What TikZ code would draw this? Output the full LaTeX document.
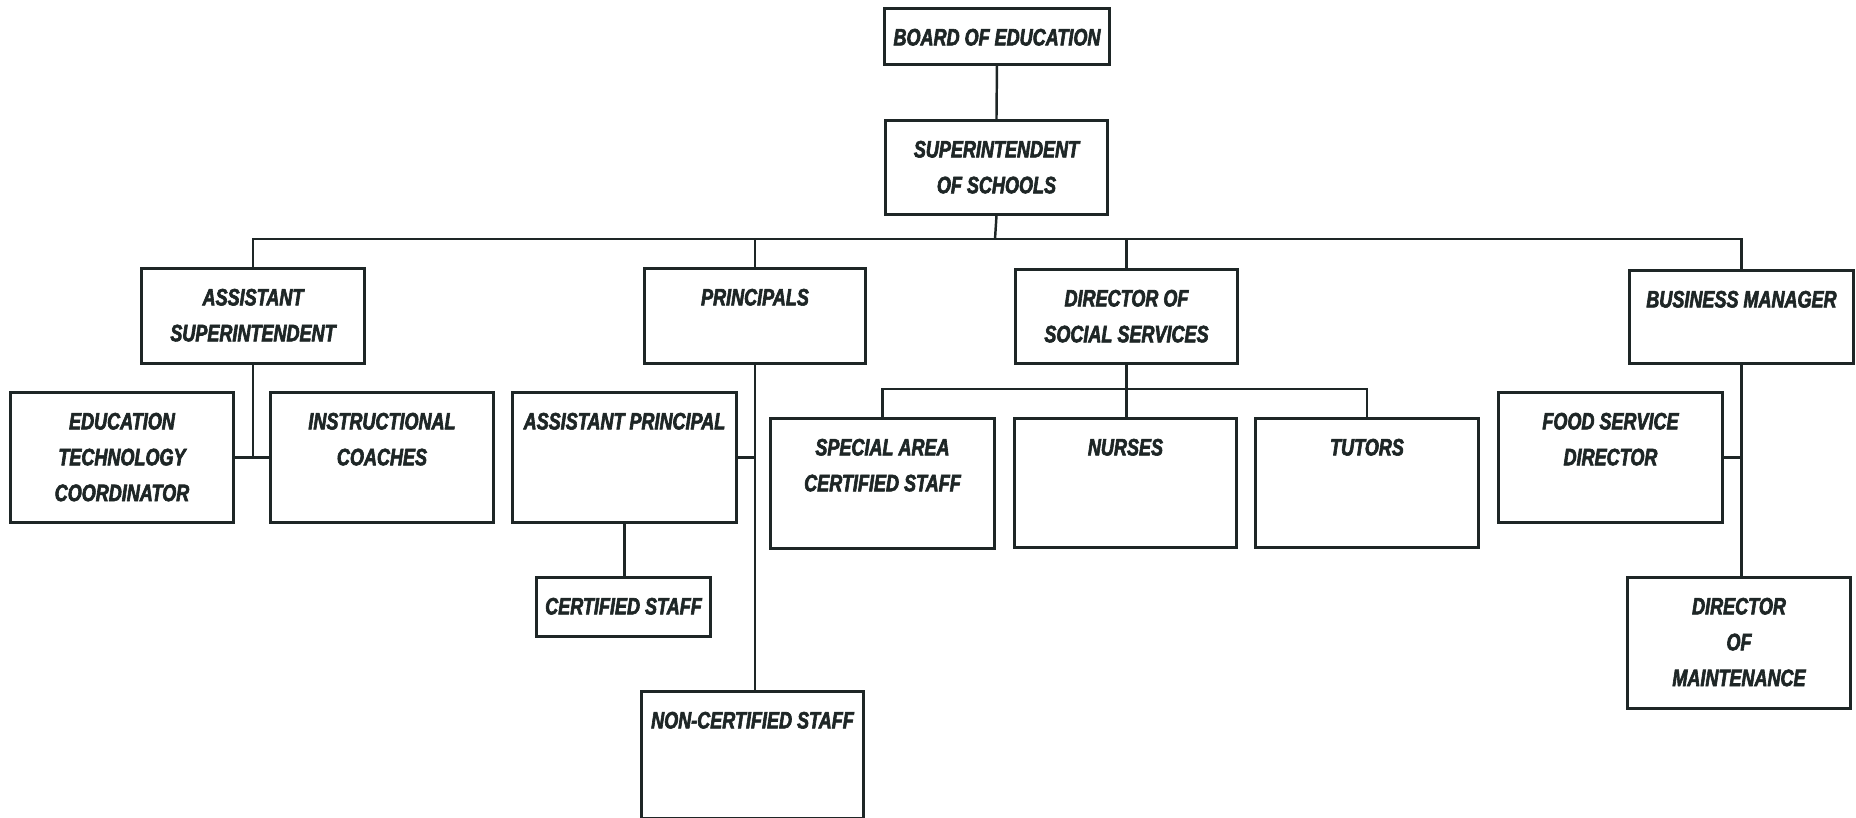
\documentclass[tikz,border=0pt]{standalone}
\usepackage{fontspec}
\setmainfont{Liberation Sans}[FakeStretch=0.76, BoldItalicFont={Liberation Sans Bold Italic}, BoldItalicFeatures={FakeBold=2.6}]
\begin{document}
\begin{tikzpicture}[x=0.02cm, y=-0.02cm]
\definecolor{encre}{HTML}{1E2626}
\tikzset{cadre/.style={draw=encre, line width=1.7pt, rectangle, anchor=north west, minimum width=4.46cm, minimum height=1.9cm, inner sep=0pt}}
\tikzset{titre/.style={anchor=north, yshift=-0.43cm, inner sep=0pt, align=center, text=encre, font=\fontsize{13.5}{20.4}\selectfont\bfseries\itshape}}
\tikzset{trait/.style={draw=encre, line width=1.4pt}}
\useasboundingbox (0,0) rectangle (1856,818);
% boxes
\node[cadre, minimum width=4.5cm, minimum height=1.12cm] (B) at (883,7) {};
\node[cadre, minimum width=4.44cm, minimum height=1.88cm] (S) at (884,119) {};
\node[cadre] (AS) at (140,267) {};
\node[cadre, minimum width=4.42cm] (P) at (643,267) {};
\node[cadre, minimum width=4.44cm, minimum height=1.88cm] (DS) at (1014,268) {};
\node[cadre, minimum width=4.48cm, minimum height=1.86cm] (BM) at (1628,269) {};
\node[cadre, minimum height=2.6cm] (ET) at (9,391) {};
\node[cadre, minimum height=2.6cm] (IC) at (269,391) {};
\node[cadre, minimum width=4.48cm, minimum height=2.6cm] (AP) at (511,391) {};
\node[cadre, minimum width=4.48cm, minimum height=2.6cm] (SA) at (769,417) {};
\node[cadre, minimum width=4.44cm, minimum height=2.58cm] (N) at (1013,417) {};
\node[cadre, minimum height=2.58cm] (T) at (1254,417) {};
\node[cadre, minimum width=4.48cm, minimum height=2.6cm] (FS) at (1497,391) {};
\node[cadre, minimum width=3.48cm, minimum height=1.18cm] (CS) at (535,576) {};
\node[cadre, minimum width=4.44cm, minimum height=2.54cm] (NC) at (640,690) {};
\node[cadre, minimum height=2.62cm] (DM) at (1626,576) {};
% texts
\node[titre] (tB) at (B.north) {BOARD OF EDUCATION};
\node[titre] (tS) at (S.north) {SUPERINTENDENT\\OF SCHOOLS};
\node[titre] (tAS) at (AS.north) {ASSISTANT\\SUPERINTENDENT};
\node[titre] (tP) at (P.north) {PRINCIPALS};
\node[titre] (tDS) at (DS.north) {DIRECTOR OF\\SOCIAL SERVICES};
\node[titre] (tBM) at (BM.north) {BUSINESS MANAGER};
\node[titre] (tET) at (ET.north) {EDUCATION\\TECHNOLOGY\\COORDINATOR};
\node[titre] (tIC) at (IC.north) {INSTRUCTIONAL\\COACHES};
\node[titre] (tAP) at (AP.north) {ASSISTANT PRINCIPAL};
\node[titre] (tSA) at (SA.north) {SPECIAL AREA\\CERTIFIED STAFF};
\node[titre] (tN) at (N.north) {NURSES};
\node[titre] (tT) at (T.north) {TUTORS};
\node[titre] (tFS) at (FS.north) {FOOD SERVICE\\DIRECTOR};
\node[titre] (tCS) at (CS.north) {CERTIFIED STAFF};
\node[titre] (tNC) at (NC.north) {NON-CERTIFIED STAFF};
\node[titre] (tDM) at (DM.north) {DIRECTOR\\OF\\MAINTENANCE};
% connectors
\coordinate (barre) at (995,239);
\coordinate (barre2) at (1124,389);
\draw[trait] (B.south) -- (S.north);
\draw[trait] (S.south) -- (barre);
\draw[trait] (AS.north) |- (barre) -| (BM.north);
\draw[trait] (P.north) -- (P.north |- barre);
\draw[trait] (DS.north) -- (DS.north |- barre);
\draw[trait] (AS.south) -- (AS.south |- ET.east);
\draw[trait] (ET.east) -- (IC.west);
\draw[trait] (P.south) -- (P.south |- NC.north);
\draw[trait] (AP.east) -- (AP.east -| P.south);
\draw[trait] (AP.south) -- (AP.south |- CS.north);
\draw[trait] (DS.south) -- (DS.south |- N.north);
\draw[trait] (SA.north) |- (barre2) -| (T.north);
\draw[trait] (BM.south) -- (BM.south |- DM.north);
\draw[trait] (FS.east) -- (FS.east -| BM.south);
\end{tikzpicture}
\end{document}
